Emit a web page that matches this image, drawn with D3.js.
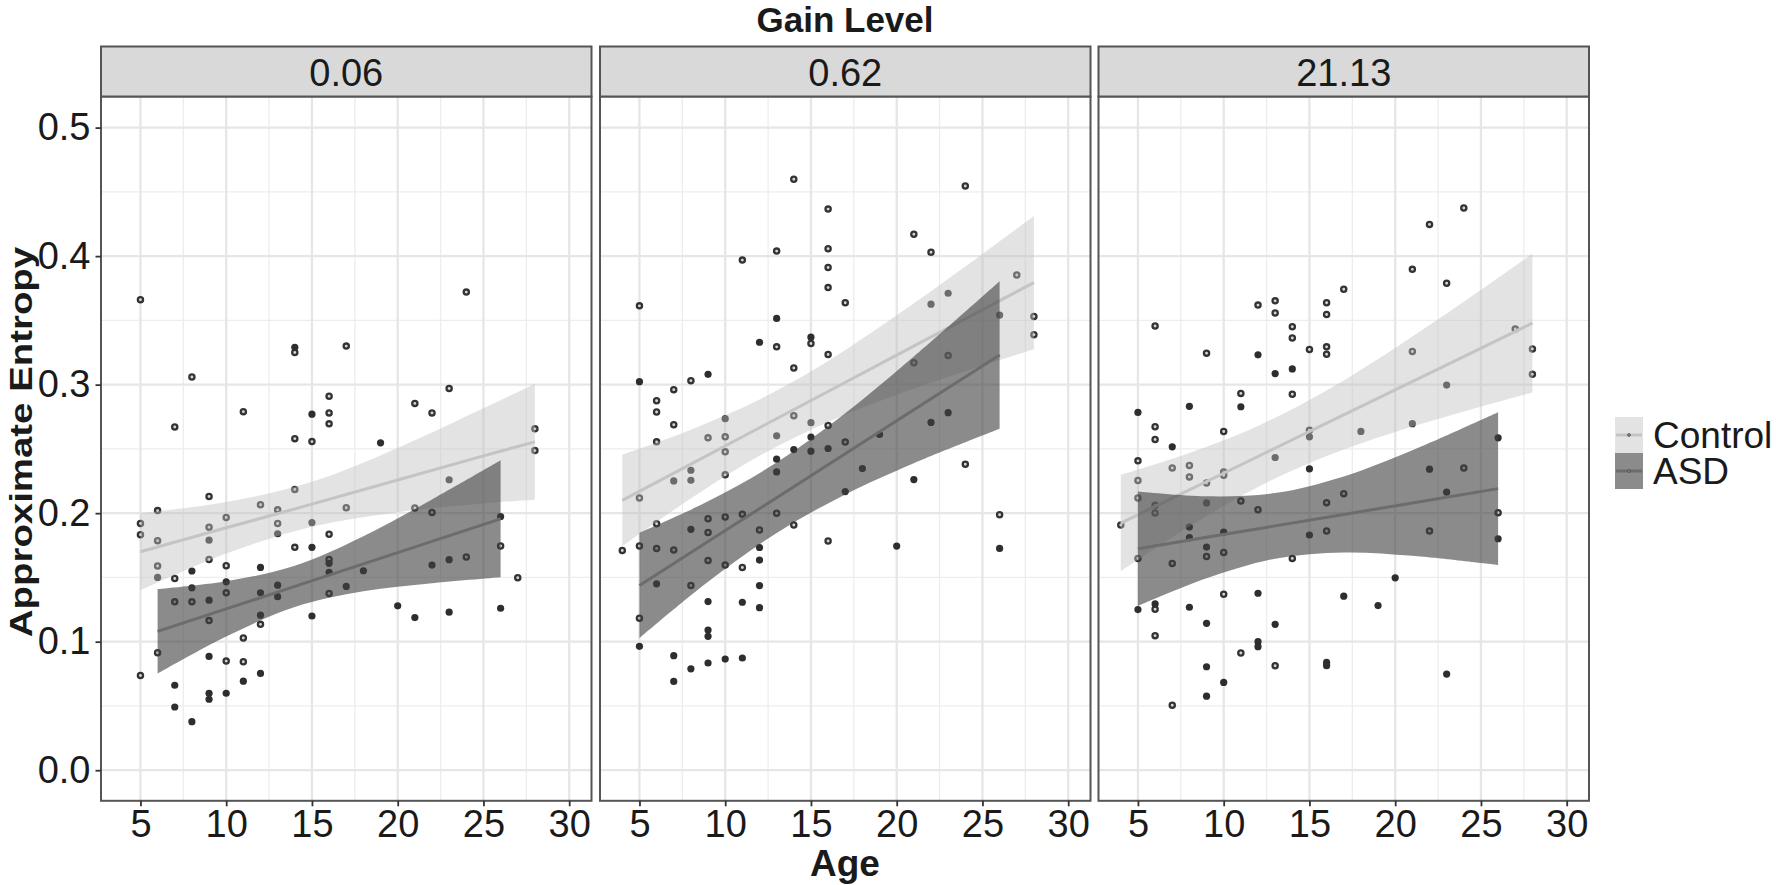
<!DOCTYPE html>
<html>
<head>
<meta charset="utf-8">
<script src="https://cdn.jsdelivr.net/npm/d3@7"></script>
<style>
  html, body { margin: 0; padding: 0; background: #fff; }
  svg { display: block; font-family: "Liberation Sans", Arial, Helvetica, sans-serif; }
</style>
</head>
<body>
<svg id="chart" width="1776" height="885"></svg>
<script>
// ---------------- data ----------------
const gainLevels = ["0.06", "0.62", "21.13"];
const groups = ["Control", "ASD"];
const xTicks = [5, 10, 15, 20, 25, 30];
const yTicks = [0.0, 0.1, 0.2, 0.3, 0.4, 0.5];

// [age, approximate entropy]
const control006 = [[5,0.366],[24,0.372],[14,0.325],[17,0.330],[8,0.306],[11,0.279],[7,0.267],[16,0.291],[16,0.278],[16,0.2695],[14,0.258],[15,0.2557],[21,0.2854],[22,0.278],[23,0.297],[28,0.2656],[28,0.2487],[9,0.213],[14,0.2185],[12,0.2065],[6,0.202],[13,0.2026],[17,0.2042],[21,0.204],[22,0.2005],[5,0.192],[5,0.1833],[10,0.1966],[9,0.189],[13,0.192],[6,0.1786],[16,0.1836],[14,0.1734],[26,0.1745],[24,0.1659],[27,0.1497],[6,0.1589],[7,0.1492],[10,0.1591],[16,0.164],[9,0.164],[10,0.138],[16,0.1375],[7,0.131],[8,0.131],[12,0.1135],[9,0.1164],[11,0.1029],[6,0.0914],[5,0.0737],[10,0.0849],[11,0.0844]];
const asd006 = [[14,0.329],[15,0.277],[19,0.2547],[23,0.226],[13,0.184],[15,0.1927],[9,0.179],[15,0.1734],[26,0.1974],[23,0.1638],[22,0.1596],[6,0.150],[8,0.155],[12,0.1578],[16,0.161],[16,0.154],[17,0.143],[18,0.1552],[8,0.1419],[10,0.1466],[12,0.138],[13,0.144],[13,0.135],[9,0.1323],[20,0.1279],[21,0.1188],[23,0.123],[26,0.126],[15,0.120],[12,0.1206],[9,0.0885],[12,0.0753],[7,0.0661],[11,0.0693],[9,0.0599],[9,0.0552],[10,0.0599],[7,0.0492],[8,0.0378]];

const control062 = [[14,0.4598],[24,0.4546],[16,0.4366],[21,0.417],[22,0.403],[13,0.4039],[11,0.3969],[16,0.4057],[16,0.3912],[16,0.3755],[17,0.3637],[5,0.3613],[27,0.3853],[28,0.3531],[28,0.3389],[13,0.3294],[15,0.332],[16,0.3235],[23,0.3226],[14,0.313],[21,0.317],[8,0.3031],[7,0.2961],[6,0.2875],[6,0.2787],[7,0.2688],[6,0.2555],[14,0.2758],[16,0.2683],[9,0.2586],[10,0.2594],[10,0.2477],[10,0.2298],[17,0.2553],[24,0.2381],[5,0.2118],[6,0.1918],[9,0.1957],[9,0.185],[10,0.197],[11,0.1991],[13,0.1999],[12,0.1869],[14,0.1908],[26,0.1988],[4,0.171],[5,0.1744],[6,0.1726],[7,0.1713],[16,0.1783],[9,0.1632],[10,0.1596],[11,0.1577],[8,0.1437],[5,0.1182]];
const asd062 = [[23,0.3711],[22,0.3626],[26,0.3541],[13,0.3515],[12,0.333],[15,0.3369],[5,0.3023],[9,0.308],[10,0.2735],[15,0.2704],[13,0.2602],[15,0.2592],[8,0.2334],[7,0.2251],[8,0.2256],[14,0.2495],[15,0.2482],[16,0.2503],[13,0.242],[13,0.2321],[19,0.2612],[22,0.2706],[23,0.2782],[18,0.2347],[17,0.2168],[21,0.2261],[8,0.1874],[12,0.1733],[20,0.1744],[26,0.1726],[12,0.1635],[6,0.145],[12,0.1437],[9,0.1312],[11,0.1307],[12,0.1265],[9,0.1091],[9,0.1042],[5,0.0964],[7,0.0891],[8,0.0789],[9,0.0834],[10,0.0865],[11,0.0873],[7,0.0691]];

const control2113 = [[24,0.4374],[22,0.4247],[21,0.3897],[23,0.3789],[17,0.3742],[12,0.3619],[13,0.3652],[13,0.3557],[16,0.3637],[16,0.3546],[6,0.3456],[14,0.3451],[14,0.3363],[15,0.3273],[16,0.3294],[16,0.3237],[9,0.3245],[21,0.3258],[27,0.3433],[28,0.3278],[28,0.308],[11,0.2932],[14,0.2925],[6,0.2672],[6,0.2573],[10,0.2636],[15,0.2646],[5,0.2407],[5,0.2254],[5,0.2118],[7,0.2352],[8,0.2371],[8,0.2282],[9,0.2235],[10,0.2321],[10,0.2295],[4,0.1908],[6,0.2061],[6,0.2001],[11,0.2095],[12,0.2027],[16,0.2082],[17,0.2152],[24,0.2352],[26,0.2004],[16,0.1861],[22,0.1861],[9,0.1663],[10,0.1694],[5,0.1648],[7,0.1609],[14,0.1648],[10,0.1369],[6,0.1252],[6,0.1047],[11,0.0912],[13,0.0813],[7,0.0505]];
const asd2113 = [[12,0.3232],[13,0.3086],[14,0.3122],[23,0.2997],[11,0.2828],[8,0.2831],[5,0.2784],[7,0.2516],[15,0.2594],[18,0.2636],[21,0.2696],[26,0.2586],[13,0.2433],[15,0.2345],[9,0.208],[22,0.2342],[23,0.2163],[26,0.1801],[8,0.1892],[8,0.1809],[10,0.1853],[15,0.183],[9,0.1736],[20,0.1497],[12,0.1377],[17,0.1354],[19,0.1281],[5,0.125],[6,0.1294],[8,0.1268],[9,0.1143],[13,0.1135],[12,0.100],[12,0.0961],[9,0.0805],[16,0.0839],[16,0.0813],[23,0.0748],[10,0.0683],[9,0.0576]];

// linear fit with confidence band: [age, lower, fit, upper]
const smoothCtrl006 = [[5,0.140,0.170,0.200],[10,0.1686,0.1886,0.2086],[15,0.1895,0.207,0.2245],[20,0.2008,0.2258,0.2508],[25,0.2076,0.2446,0.2816],[28,0.2105,0.2555,0.3005]];
const smoothAsd006 = [[6,0.0751,0.108,0.1409],[10,0.104,0.1255,0.147],[14,0.127,0.143,0.159],[18,0.1392,0.1606,0.182],[22,0.1454,0.178,0.2106],[26,0.1501,0.1956,0.2411]];
const smoothCtrl062 = [[4,0.1744,0.21,0.2456],[8,0.2114,0.2382,0.265],[12,0.2446,0.2665,0.2884],[16,0.271,0.2947,0.3184],[20,0.2921,0.323,0.3539],[24,0.3105,0.3512,0.3919],[28,0.3276,0.3794,0.4312]];
const smoothAsd062 = [[5,0.1027,0.1437,0.1847],[9,0.1466,0.1779,0.2092],[13,0.1846,0.212,0.2394],[17,0.2146,0.2462,0.2778],[21,0.2389,0.2804,0.3219],[26,0.2657,0.3231,0.3805]];
const smoothCtrl2113 = [[4,0.1548,0.1923,0.2298],[8,0.1896,0.2182,0.2468],[12,0.2203,0.2441,0.2679],[16,0.2445,0.27,0.2955],[20,0.2632,0.2959,0.3286],[24,0.2791,0.3218,0.3645],[28,0.2939,0.3479,0.4019]];
const smoothAsd2113 = [[5,0.1278,0.1723,0.2168],[9,0.1493,0.1812,0.2131],[13,0.1646,0.1901,0.2156],[17,0.1694,0.199,0.2286],[21,0.1668,0.2079,0.249],[26,0.1596,0.2191,0.2786]];

// ---------------- layout & style ----------------
const panels = [
  { label: gainLevels[0], ctrl: control006,  asd: asd006,  sCtrl: smoothCtrl006,  sAsd: smoothAsd006 },
  { label: gainLevels[1], ctrl: control062,  asd: asd062,  sCtrl: smoothCtrl062,  sAsd: smoothAsd062 },
  { label: gainLevels[2], ctrl: control2113, asd: asd2113, sCtrl: smoothCtrl2113, sAsd: smoothAsd2113 }
];
const panelLeft = [101, 600, 1098.5];
const panelW = 490.5;
const stripTop = 46.5, panelTop = 96.5, panelBottom = 800.8;
const xDomain = [2.7, 31.3];
const yDomain = [-0.0238, 0.5242];
const textColor = "#1a1a1a";
const borderColor = "#555555";
const style = {
  Control: { ribbon: "#bdbdbd", ribbonOpacity: 0.43, line: "#c4c4c4" },
  ASD:     { ribbon: "#424242", ribbonOpacity: 0.61, line: "#6c6c6c" }
};

const svg = d3.select("#chart");
const y = d3.scaleLinear().domain(yDomain).range([panelBottom, panelTop]);

// title
svg.append("text").attr("x", 845).attr("y", 32).attr("text-anchor", "middle")
  .attr("font-size", 35).attr("font-weight", "bold").attr("fill", textColor).text("Gain Level");

panels.forEach((p, i) => {
  const x0 = panelLeft[i], x1 = x0 + panelW;
  const x = d3.scaleLinear().domain(xDomain).range([x0, x1]);
  const g = svg.append("g");

  // grid
  const minorX = d3.range(2.5, 32.5, 5).filter(v => v > xDomain[0] && v < xDomain[1]);
  const minorY = d3.range(0.05, 0.5, 0.1);
  g.selectAll(".mgx").data(minorX).join("line")
    .attr("x1", d => x(d)).attr("x2", d => x(d)).attr("y1", panelTop).attr("y2", panelBottom)
    .attr("stroke", "#ededed").attr("stroke-width", 1.3);
  g.selectAll(".mgy").data(minorY).join("line")
    .attr("x1", x0).attr("x2", x1).attr("y1", d => y(d)).attr("y2", d => y(d))
    .attr("stroke", "#ededed").attr("stroke-width", 1.3);
  g.selectAll(".gx").data(xTicks).join("line")
    .attr("x1", d => x(d)).attr("x2", d => x(d)).attr("y1", panelTop).attr("y2", panelBottom)
    .attr("stroke", "#e6e6e6").attr("stroke-width", 2.3);
  g.selectAll(".gy").data(yTicks).join("line")
    .attr("x1", x0).attr("x2", x1).attr("y1", d => y(d)).attr("y2", d => y(d))
    .attr("stroke", "#e6e6e6").attr("stroke-width", 2.3);

  // points
  g.selectAll(".pc").data(p.ctrl).join("circle")
    .attr("cx", d => x(d[0])).attr("cy", d => y(d[1])).attr("r", 2.6)
    .attr("fill", "#d6d6d6").attr("stroke", "#333").attr("stroke-width", 2.3);
  g.selectAll(".pa").data(p.asd).join("circle")
    .attr("cx", d => x(d[0])).attr("cy", d => y(d[1])).attr("r", 3.6)
    .attr("fill", "#2e2e2e");

  // smooths
  [["Control", p.sCtrl], ["ASD", p.sAsd]].forEach(([grp, s]) => {
    const area = d3.area().x(d => x(d[0])).y0(d => y(d[1])).y1(d => y(d[3]))
      .curve(d3.curveCatmullRom.alpha(0.5));
    const line = d3.line().x(d => x(d[0])).y(d => y(d[2]));
    g.append("path").attr("d", area(s)).attr("fill", style[grp].ribbon)
      .attr("fill-opacity", style[grp].ribbonOpacity);
    g.append("path").attr("d", line(s)).attr("fill", "none")
      .attr("stroke", style[grp].line).attr("stroke-width", 3);
  });

  // border
  g.append("rect").attr("x", x0).attr("y", panelTop).attr("width", panelW)
    .attr("height", panelBottom - panelTop).attr("fill", "none")
    .attr("stroke", borderColor).attr("stroke-width", 2);

  // strip
  g.append("rect").attr("x", x0).attr("y", stripTop).attr("width", panelW)
    .attr("height", panelTop - stripTop).attr("fill", "#d9d9d9")
    .attr("stroke", borderColor).attr("stroke-width", 2);
  g.append("text").attr("x", (x0 + x1) / 2).attr("y", 86).attr("text-anchor", "middle")
    .attr("font-size", 38).attr("fill", textColor).text(p.label);

  // x axis
  const ax = svg.append("g").attr("transform", `translate(0,${panelBottom})`)
    .call(d3.axisBottom(x).tickValues(xTicks).tickSize(5.5).tickPadding(3.5));
  ax.select(".domain").remove();
  ax.selectAll("line").attr("stroke", "#333").attr("stroke-width", 1.8);
  ax.selectAll("text").attr("font-size", 38).attr("fill", textColor)
    .attr("font-family", "Liberation Sans, Arial, sans-serif");

  if (i === 0) {
    const ay = svg.append("g").attr("transform", `translate(${x0},0)`)
      .call(d3.axisLeft(y).tickValues(yTicks).tickFormat(d3.format(".1f")).tickSize(5.5).tickPadding(5));
    ay.select(".domain").remove();
    ay.selectAll("line").attr("stroke", "#333").attr("stroke-width", 1.8);
    ay.selectAll("text").attr("font-size", 38).attr("fill", textColor)
      .attr("font-family", "Liberation Sans, Arial, sans-serif");
  }
});

// axis titles
svg.append("text").attr("x", 845).attr("y", 876).attr("text-anchor", "middle")
  .attr("font-size", 37).attr("font-weight", "bold").attr("fill", textColor).text("Age");
svg.append("text").attr("transform", "translate(32,442) rotate(-90) scale(1.2,1)").attr("text-anchor", "middle")
  .attr("font-size", 32).attr("font-weight", "bold").attr("fill", textColor).text("Approximate Entropy");

// legend
const legend = svg.append("g").attr("transform", "translate(1615,417)");
groups.forEach((grp, k) => {
  const gy = k * 36;
  legend.append("rect").attr("x", 0).attr("y", gy).attr("width", 28).attr("height", 36)
    .attr("fill", "#ffffff");
  legend.append("rect").attr("x", 0).attr("y", gy).attr("width", 28).attr("height", 36)
    .attr("fill", style[grp].ribbon).attr("fill-opacity", style[grp].ribbonOpacity);
  legend.append("line").attr("x1", 1).attr("x2", 27).attr("y1", gy + 18).attr("y2", gy + 18)
    .attr("stroke", style[grp].line).attr("stroke-width", 3);
  legend.append("circle").attr("cx", 14).attr("cy", gy + 18).attr("r", 1.3)
    .attr("fill", "#bbb").attr("stroke", "#444").attr("stroke-width", 1);
  legend.append("text").attr("x", 38).attr("y", gy + 18).attr("dy", "0.36em")
    .attr("font-size", 37).attr("fill", textColor).text(grp);
});
</script>
</body>
</html>
